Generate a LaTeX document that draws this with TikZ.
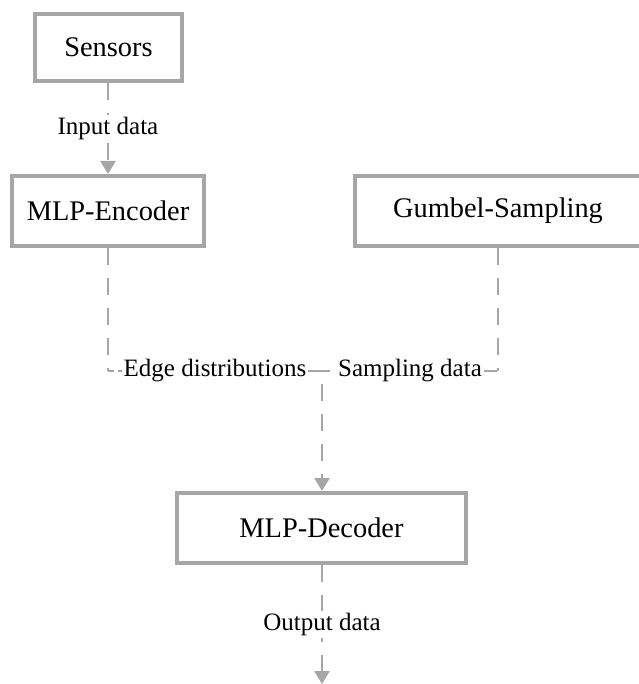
\documentclass[tikz,border=0pt]{standalone}
\usepackage{fontspec}
\setmainfont{Liberation Serif}
\usetikzlibrary{arrows.meta}
\definecolor{lg}{HTML}{A6A6A6}
\tikzset{
  box/.style={draw=lg, line width=4pt, fill=white, inner sep=0pt,
    font=\fontsize{28.4}{34}\selectfont},
  conn/.style={draw=lg, line width=2.6pt, dash pattern=on 17pt off 13pt},
  arr/.style={conn, -{Triangle[width=15pt,length=13pt]}},
  lbl/.style={fill=white, inner sep=2pt, font=\fontsize{25}{30}\selectfont}
}
\begin{document}
\begin{tikzpicture}[x=1pt,y=-1pt]
\useasboundingbox (0,0) rectangle (638,684);
\node[box, minimum width=147pt, minimum height=67pt] (sen) at (108.5,47.5) {Sensors};
\node[box, minimum width=192pt, minimum height=70pt] (enc) at (108,211) {MLP-Encoder};
\node[box, minimum width=286pt, minimum height=70pt] (gum) at (498,211) {Gumbel-Sampling};
\node[box, minimum width=289pt, minimum height=70pt] (dec) at (321.5,528) {MLP-Decoder};
\coordinate (j) at (322,371);
\coordinate (ec) at (108,371);
\coordinate (gc) at (498,371);
\coordinate (out) at (322,684);
\draw[arr] (sen.south -| enc.north) -- node[lbl] {Input data} (enc.north);
\draw[conn] (enc.south) -- (ec);
\draw[conn, dash pattern=on 6pt off 4pt on 176pt off 12pt on 18pt off 100pt] (ec) -- node[lbl] {Edge distributions} (j);
\draw[conn] (gum.south) -- (gc);
\draw[conn, dash pattern=on 8pt off 9pt on 17pt off 13pt] (j) -- node[lbl] {Sampling data} (gc);
\draw[arr, dash phase=17pt] (j) -- (dec.north -| j);
\draw[arr] (dec.south -| j) -- node[lbl] {Output data} (out);
\end{tikzpicture}
\end{document}
